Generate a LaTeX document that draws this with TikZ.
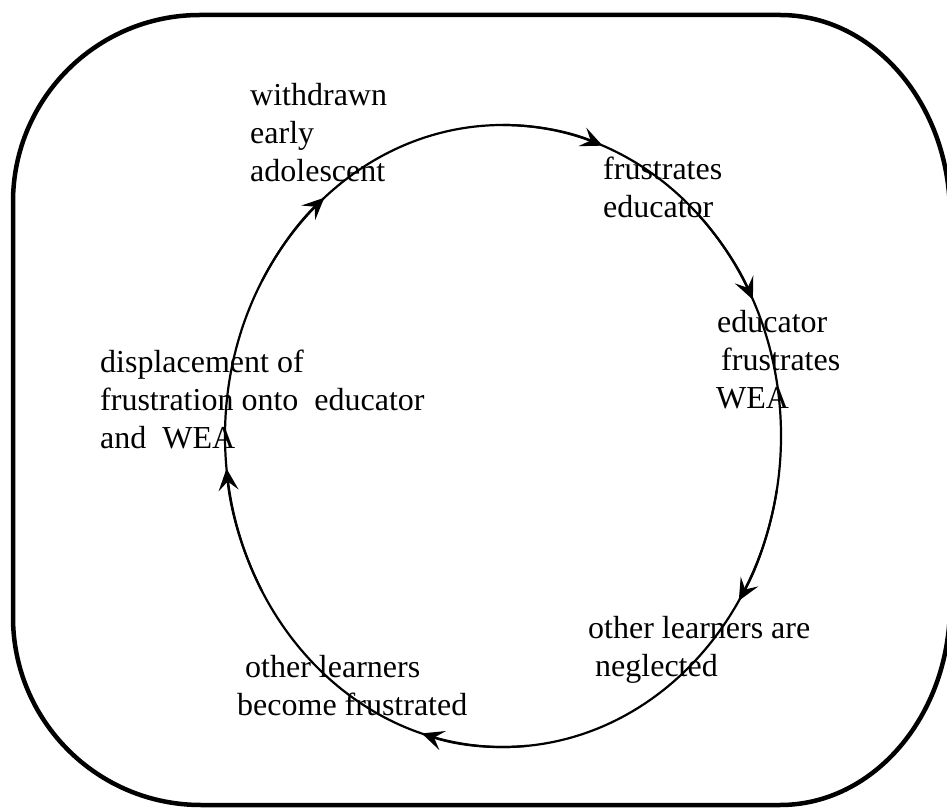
\documentclass[tikz,border=0pt]{standalone}
\usepackage{fontspec}
\setmainfont{Liberation Serif}
\usetikzlibrary{arrows.meta}
\begin{document}
\begin{tikzpicture}[x=1pt,y=1pt,
  frame/.style={line width=4.5pt,line join=round},
  ring/.style={line width=2.2pt},
  cyc/.style={line width=2.2pt,-{Stealth[length=22pt,width=20pt,inset=9pt]}},
  lbl/.style={anchor=base west,inner sep=0pt,
    font=\fontsize{32pt}{38pt}\selectfont}]
\useasboundingbox (0,0) rectangle (947,809);
% outer rounded frame
\draw[frame] (200,794) -- (780,794)
  arc[start angle=90,end angle=0,x radius=170pt,y radius=200pt]
  -- (950,204)
  arc[start angle=0,end angle=-90,x radius=170pt,y radius=200pt]
  -- (201,4)
  arc[start angle=270,end angle=180,radius=188pt]
  -- (13,607)
  arc[start angle=180,end angle=90,radius=187pt] -- cycle;
% cycle
\coordinate (c) at (503,373);
\draw[ring] (c) ellipse[x radius=278pt,y radius=311pt];
\draw[cyc] ([shift={(150:278pt and 311pt)}]c) arc[start angle=150,end angle=130,x radius=278pt,y radius=311pt];
\draw[cyc] ([shift={(90:278pt and 311pt)}]c) arc[start angle=90,end angle=69,x radius=278pt,y radius=311pt];
\draw[cyc] ([shift={(45:278pt and 311pt)}]c) arc[start angle=45,end angle=26,x radius=278pt,y radius=311pt];
\draw[cyc] ([shift={(-10:278pt and 311pt)}]c) arc[start angle=-10,end angle=-32,x radius=278pt,y radius=311pt];
\draw[cyc] ([shift={(-85:278pt and 311pt)}]c) arc[start angle=-85,end angle=-107,x radius=278pt,y radius=311pt];
\draw[cyc] ([shift={(-150:278pt and 311pt)}]c) arc[start angle=-150,end angle=-174,x radius=278pt,y radius=311pt];
% labels
\node[lbl] (wea) at (250,703) {\begin{tabular}[t]{@{}l@{}}withdrawn\\early\\adolescent\end{tabular}};
\node[lbl] (fe) at (603,629) {\begin{tabular}[t]{@{}l@{}}frustrates\\educator\end{tabular}};
\node[lbl] (efw) at (716,476) {\begin{tabular}[t]{@{}l@{}}\hspace*{1pt}educator\\\hspace*{5pt}frustrates\\WEA\end{tabular}};
\node[lbl] (disp) at (100,436) {\begin{tabular}[t]{@{}l@{}}displacement of\\frustration onto~ educator\\and~ WEA\end{tabular}};
\node[lbl] (oln) at (588,171) {\begin{tabular}[t]{@{}l@{}}other learners are\\\hspace*{7pt}neglected\end{tabular}};
\node[lbl] (olf) at (237,132) {\begin{tabular}[t]{@{}l@{}}\hspace*{8pt}other learners\\become frustrated\end{tabular}};
\end{tikzpicture}
\end{document}
